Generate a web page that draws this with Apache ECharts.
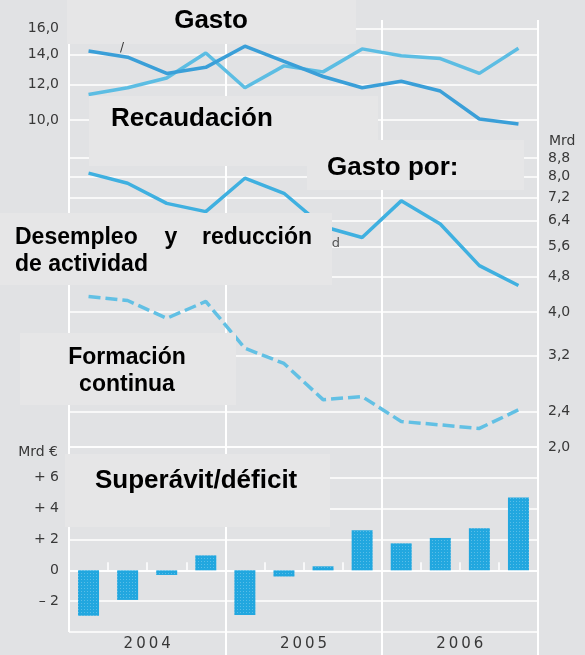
<!DOCTYPE html>
<html>
<head>
<meta charset="utf-8">
<script src="https://cdn.jsdelivr.net/npm/echarts@6/dist/echarts.min.js"></script>
<style>
html,body{margin:0;padding:0;background:#e1e2e4;}
#chart{width:585px;height:655px;}
</style>
</head>
<body>
<div id="chart"></div>
<script>
// ---- data ----
const quarters = ['I 2004','II 2004','III 2004','IV 2004','I 2005','II 2005','III 2005','IV 2005','I 2006','II 2006','III 2006','IV 2006'];
const years = ['2004','2005','2006'];
const gasto = [14.25,13.8,12.7,13.1,14.6,13.5,12.5,11.8,12.2,11.6,10.05,9.8];
const recaudacion = [11.4,11.8,12.4,14.1,11.8,13.2,12.8,14.4,13.9,13.7,12.7,14.45];
const desempleo = [8.15,7.74,6.98,6.69,7.94,7.35,6.2,5.86,7.07,6.28,5.07,4.58];
const formacion = [4.33,4.24,3.87,4.22,3.32,3.07,2.55,2.59,2.28,2.24,2.2,2.42];
const saldo = [-2.95,-1.92,-0.3,0.97,-2.9,-0.4,0.26,2.6,1.75,2.1,2.73,4.72];
const ticksTop = [10,12,14,16];
const ticksMid = [2.0,2.4,3.2,4.0,4.8,5.6,6.4,7.2,8.0,8.8];
const ticksBar = [-2,0,2,4,6];

const LN = Math.log;
const fmtDec = v => Math.exp(v).toFixed(1).replace('.', ',');
const fmtSigned = v => v > 0 ? '+ ' + v : (v < 0 ? '\u2013 ' + (-v) : '0');
const fmtYear = v => String(v).split('').join('\u2009');

const chart = echarts.init(document.getElementById('chart'), null, {renderer:'canvas'});
const lblFont = {fontFamily:'"DejaVu Sans"', fontSize:14, color:'#383838'};
const white = {color:'#ffffff', width:1.5};
const boxFill = '#e6e6e7';
const bold = (s) => 'bold ' + s + 'px "Liberation Sans", Arial, sans-serif';

const option = {
  backgroundColor:'#e1e2e4',
  animation:false,
  grid:[
    {left:69, right:47, top:20, bottom:208},
    {left:69, right:47, top:447, bottom:23}
  ],
  xAxis:[
    {gridIndex:0, type:'category', data:quarters, show:false, position:'bottom'},
    {gridIndex:0, type:'category', data:years, position:'bottom', axisLine:{show:false}, axisTick:{show:false}, axisLabel:{show:false},
     splitLine:{show:true, interval:0, lineStyle:{color:'#fff', width:2}}},
    {gridIndex:1, type:'category', data:quarters, position:'bottom', axisLine:{show:true, lineStyle:white},
     axisTick:{show:true, inside:true, length:8, interval:0, lineStyle:{color:'#fff', width:1.5}}, axisLabel:{show:false}},
    {gridIndex:1, type:'category', data:years, position:'bottom', axisLine:{show:false},
     axisTick:{show:true, length:24, interval:(i) => i > 0, lineStyle:{color:'#fff', width:2}},
     axisLabel:{show:true, margin:5, fontFamily:'"DejaVu Sans"', fontSize:15, color:'#383838', formatter:fmtYear},
     splitLine:{show:true, interval:0, lineStyle:{color:'#fff', width:2}}}
  ],
  yAxis:[
    {gridIndex:0, type:'value', position:'left', min:LN(1.87), max:LN(16.7),
     axisLine:{show:false}, axisTick:{show:false, customValues:ticksTop.map(LN)},
     axisLabel:Object.assign({customValues:ticksTop.map(LN), formatter:fmtDec, margin:10}, lblFont),
     splitLine:{show:true, lineStyle:white}},
    {gridIndex:0, type:'value', position:'right', min:LN(2.0), max:LN(17.88),
     axisLine:{show:false}, axisTick:{show:false, customValues:ticksMid.map(LN)},
     axisLabel:Object.assign({customValues:ticksMid.map(LN), formatter:fmtDec, margin:10}, lblFont),
     splitLine:{show:true, lineStyle:white}},
    {gridIndex:1, type:'value', position:'left', min:-4, max:8, interval:2,
     axisLine:{show:false}, axisTick:{show:false},
     axisLabel:Object.assign({customValues:ticksBar, formatter:fmtSigned, margin:10}, lblFont),
     splitLine:{show:true, lineStyle:white}}
  ],
  series:[
    {name:'Gasto', type:'line', xAxisIndex:0, yAxisIndex:0, data:gasto.map(LN), symbol:'none',
     lineStyle:{color:'#3a9fd8', width:3.5}, z:5},
    {name:'Recaudación', type:'line', xAxisIndex:0, yAxisIndex:0, data:recaudacion.map(LN), symbol:'none',
     lineStyle:{color:'#5cbde3', width:3.5}, z:4},
    {name:'Desempleo y reducción de actividad', type:'line', xAxisIndex:0, yAxisIndex:1, data:desempleo.map(LN), symbol:'none',
     lineStyle:{color:'#3fb0e0', width:3.5}},
    {name:'Formación continua', type:'line', xAxisIndex:0, yAxisIndex:1, data:formacion.map(LN), symbol:'none',
     lineStyle:{color:'#62c0e4', width:3.5, type:[12,5]}},
    {name:'Superávit/déficit', type:'bar', xAxisIndex:2, yAxisIndex:2, data:saldo, barWidth:21,
     itemStyle:{color:'#22a7df',
       decal:{symbol:'rect', symbolSize:1, dashArrayX:[1,2], dashArrayY:[1,2], color:'rgba(255,255,255,0.25)'}}}
  ],
  graphic:{elements:[
    {type:'rect', z:100, shape:{x:67, y:0, width:289, height:44}, style:{fill:boxFill}},
    {type:'text', z:101, style:{text:'Gasto', x:211, y:21, align:'center', verticalAlign:'middle', font:bold(26), fill:'#000'}},
    {type:'rect', z:100, shape:{x:89, y:96, width:289, height:70}, style:{fill:boxFill}},
    {type:'text', z:101, style:{text:'Recaudación', x:111, y:119, align:'left', verticalAlign:'middle', font:bold(26), fill:'#000'}},
    {type:'rect', z:100, shape:{x:307, y:140, width:217, height:50}, style:{fill:boxFill}},
    {type:'text', z:101, style:{text:'Gasto por:', x:327, y:168, align:'left', verticalAlign:'middle', font:bold(26), fill:'#000'}},
    {type:'rect', z:100, shape:{x:0, y:213, width:332, height:72}, style:{fill:boxFill}},
    {type:'text', z:101, style:{text:'Desempleo', x:15, y:238, align:'left', verticalAlign:'middle', font:bold(23), fill:'#000'}},
    {type:'text', z:101, style:{text:'y', x:171, y:238, align:'center', verticalAlign:'middle', font:bold(23), fill:'#000'}},
    {type:'text', z:101, style:{text:'reducción', x:312, y:238, align:'right', verticalAlign:'middle', font:bold(23), fill:'#000'}},
    {type:'text', z:101, style:{text:'de actividad', x:15, y:265, align:'left', verticalAlign:'middle', font:bold(23), fill:'#000'}},
    {type:'rect', z:100, shape:{x:20, y:333, width:216, height:72}, style:{fill:boxFill}},
    {type:'text', z:101, style:{text:'Formación', x:127, y:358, align:'center', verticalAlign:'middle', font:bold(23), fill:'#000'}},
    {type:'text', z:101, style:{text:'continua', x:127, y:385, align:'center', verticalAlign:'middle', font:bold(23), fill:'#000'}},
    {type:'rect', z:100, shape:{x:65, y:454, width:265, height:73}, style:{fill:boxFill}},
    {type:'text', z:101, style:{text:'Superávit/déficit', x:95, y:481, align:'left', verticalAlign:'middle', font:bold(26), fill:'#000'}},
    {type:'text', z:101, style:{text:'Mrd', x:549, y:141, align:'left', verticalAlign:'middle', font:'14px "DejaVu Sans"', fill:'#383838'}},
    {type:'text', z:101, style:{text:'Mrd €', x:58, y:452, align:'right', verticalAlign:'middle', font:'14px "DejaVu Sans"', fill:'#383838'}},
    {type:'text', z:101, style:{text:'/', x:122, y:48, align:'center', verticalAlign:'middle', font:'12px "DejaVu Sans"', fill:'#333'}},
    {type:'text', z:101, style:{text:'d', x:336, y:244, align:'center', verticalAlign:'middle', font:'13px "DejaVu Sans"', fill:'#555'}}
  ]}
};
chart.setOption(option);
</script>
</body>
</html>
